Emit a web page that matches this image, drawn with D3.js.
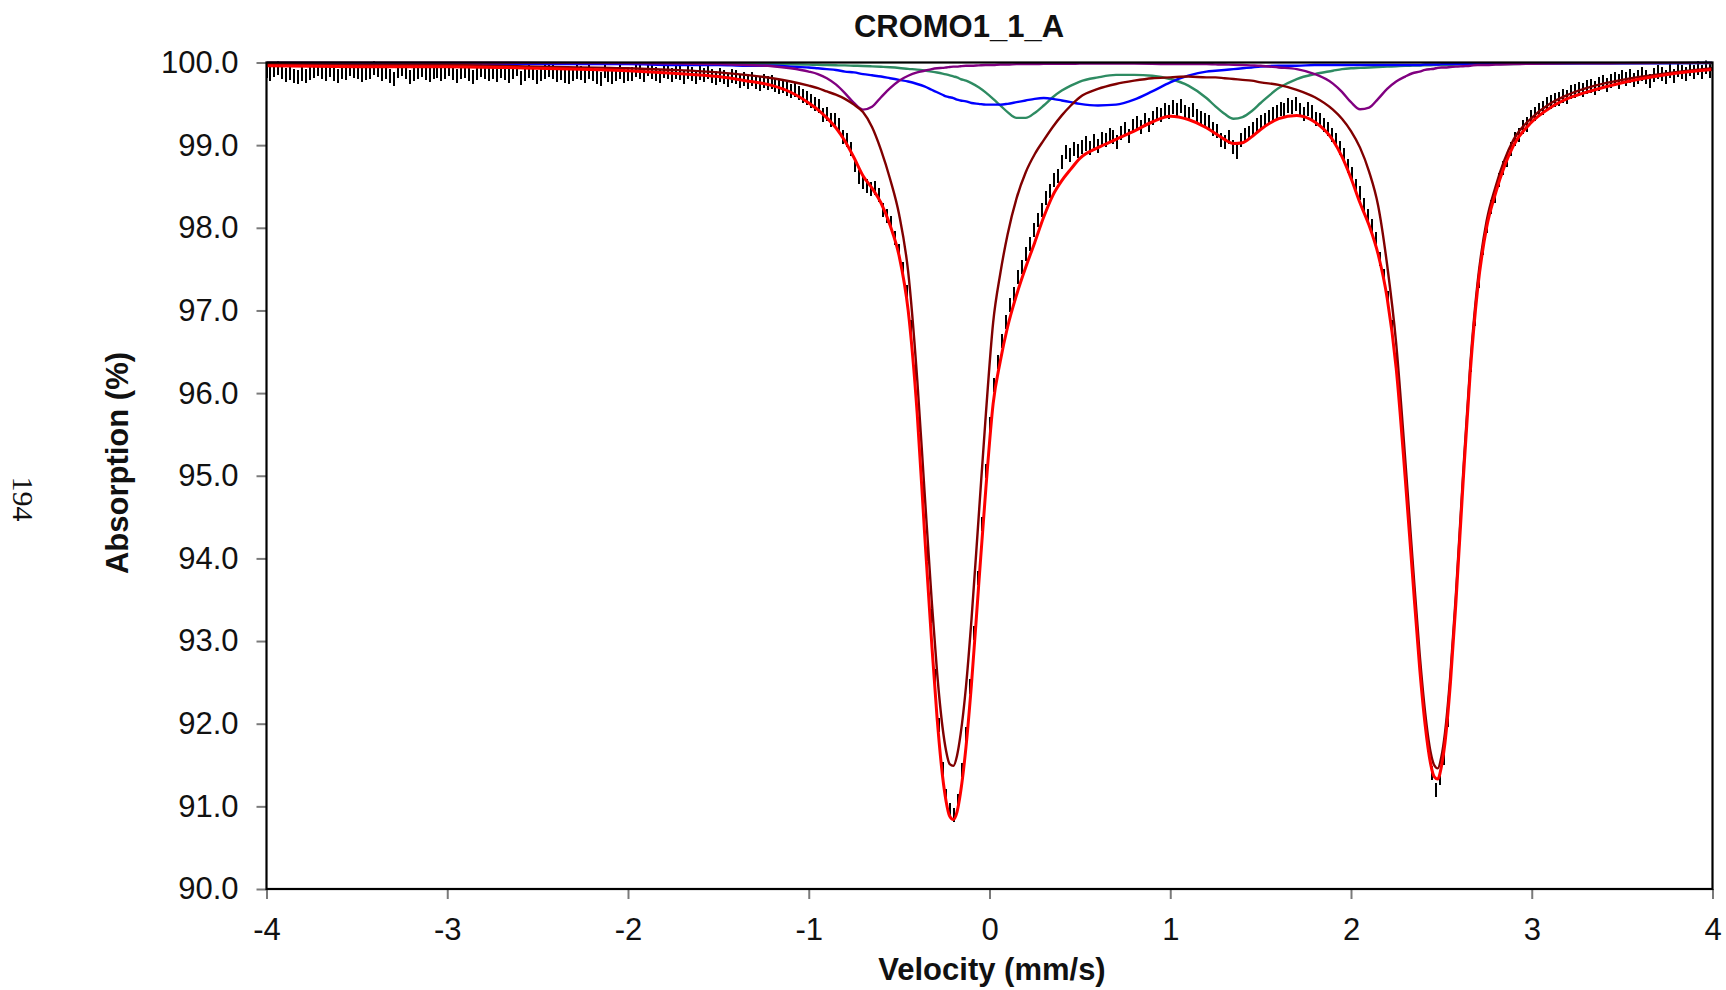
<!DOCTYPE html>
<html>
<head>
<meta charset="utf-8">
<script src="https://cdn.jsdelivr.net/npm/d3@7"></script>
<style>
  html, body { margin: 0; padding: 0; background: #fff; }
  svg { display: block; }
</style>
</head>
<body>
<svg id="chart" width="1726" height="990"></svg>
<script>
// ---- Mössbauer spectrum CROMO1_1_A ----
const chartTitle = "CROMO1_1_A";
const xLabel = "Velocity (mm/s)";
const yLabel = "Absorption (%)";
const pageNumber = "194";
const xTicks = [-4, -3, -2, -1, 0, 1, 2, 3, 4];
const yTicks = [90, 91, 92, 93, 94, 95, 96, 97, 98, 99, 100];

// Channel velocity calibration (linear drive)
const channelStart = -4.0;
const channelStep = 0.022;
// Measured absorption per channel (%)
const spectrum = [
  99.90, 99.86, 99.91, 99.93, 99.89, 99.85, 99.87, 99.84, 99.82, 99.86,
  99.84, 99.87, 99.90, 99.92, 99.88, 99.86, 99.91, 99.86, 99.84, 99.89,
  99.87, 99.92, 99.90, 99.88, 99.85, 99.87, 99.89, 99.93, 99.91, 99.86,
  99.88, 99.84, 99.80, 99.90, 99.92, 99.88, 99.83, 99.86, 99.89, 99.91,
  99.87, 99.85, 99.88, 99.90, 99.86, 99.89, 99.92, 99.87, 99.84, 99.88,
  99.90, 99.86, 99.83, 99.87, 99.91, 99.89, 99.86, 99.88, 99.85, 99.90,
  99.87, 99.84, 99.88, 99.92, 99.81, 99.86, 99.90, 99.87, 99.83, 99.86,
  99.89, 99.91, 99.88, 99.85, 99.87, 99.84, 99.82, 99.86, 99.89, 99.87,
  99.84, 99.88, 99.86, 99.83, 99.80, 99.90, 99.85, 99.82, 99.86, 99.88,
  99.84, 99.86,
  99.86, 99.91, 99.88, 99.85, 99.92, 99.89, 99.86, 99.84, 99.90, 99.88,
  99.85, 99.89, 99.87, 99.83, 99.88, 99.86, 99.82, 99.87, 99.85, 99.88,
  99.84, 99.81, 99.85, 99.83, 99.79, 99.84, 99.82, 99.78, 99.80, 99.77,
  99.80, 99.76, 99.74, 99.78, 99.75, 99.76, 99.73, 99.70, 99.72, 99.68,
  99.66, 99.67, 99.63, 99.60, 99.57,
  99.53, 99.50, 99.47, 99.36, 99.38, 99.31, 99.30, 99.24, 99.10, 99.06,
  98.95, 98.76, 98.62, 98.55, 98.51, 98.47, 98.48, 98.40, 98.21, 98.14,
  98.06, 97.88, 97.72, 97.50, 97.22, 96.80, 96.25, 95.62, 94.82, 94.05,
  93.30, 92.58, 91.98, 91.45, 91.12, 90.96, 90.90, 91.07, 91.44, 91.88,
  92.45, 93.10, 93.76, 94.42, 95.06, 95.62, 96.10, 96.38, 96.63, 96.86,
  97.07, 97.20, 97.41, 97.52, 97.68, 97.80, 97.97, 98.10, 98.22, 98.36,
  98.45, 98.58, 98.63, 98.80, 98.92, 98.88, 98.95, 98.93, 98.98, 99.02,
  98.96, 99.05, 98.99, 99.08, 99.06, 99.12, 99.10, 99.04, 99.15, 99.20,
  99.11, 99.23, 99.27, 99.22, 99.30, 99.24, 99.33, 99.38, 99.36, 99.42,
  99.40, 99.46, 99.43, 99.47, 99.40, 99.38, 99.42, 99.35, 99.33, 99.30,
  99.28, 99.20, 99.17, 99.06, 99.04, 99.10, 98.98, 98.92, 99.06, 99.12,
  99.15, 99.20, 99.24, 99.28, 99.30, 99.34, 99.38, 99.40, 99.44, 99.42,
  99.48, 99.46, 99.50, 99.42, 99.38, 99.44, 99.40, 99.32, 99.30, 99.24,
  99.20, 99.12, 99.06, 98.97, 98.88, 98.75, 98.65, 98.50, 98.42, 98.28,
  98.14, 98.02, 97.86,
  97.62, 97.42, 97.15, 96.80, 96.40, 95.85, 95.24, 94.62, 93.98, 93.34,
  92.70, 92.18, 91.74, 91.40, 91.20, 91.34, 91.58, 92.04, 92.60, 93.30,
  94.08, 94.88, 95.64, 96.34, 96.90, 97.36, 97.75, 98.02, 98.25, 98.38,
  98.58,
  98.72, 98.82, 98.95, 99.08, 99.12, 99.22, 99.25, 99.34, 99.38, 99.42,
  99.45, 99.50, 99.52, 99.55, 99.56, 99.60, 99.58, 99.64, 99.66, 99.68,
  99.67, 99.70, 99.72, 99.69, 99.74, 99.76, 99.73, 99.78, 99.80, 99.77,
  99.82, 99.80, 99.84, 99.79, 99.83, 99.86, 99.82, 99.78, 99.85, 99.88,
  99.86, 99.83, 99.90, 99.84, 99.91, 99.89, 99.86, 99.92, 99.88, 99.93,
  99.89, 99.94, 99.90
];
// Statistical uncertainty of each channel (%)
const errorBar = 0.085;

// Fit model sampled on a velocity grid
const fitVelocity = [
  -4.0, -3.5, -3.0, -2.5, -2.0, -1.75, -1.5, -1.35, -1.2, -1.1,
  -1.0, -0.95, -0.9, -0.85, -0.8, -0.75, -0.7, -0.65, -0.6, -0.55,
  -0.5, -0.45, -0.4, -0.36, -0.32, -0.29, -0.26, -0.24, -0.22, -0.2,
  -0.18, -0.16, -0.13, -0.1, -0.06, -0.02, 0.02, 0.06, 0.1, 0.15,
  0.2, 0.25, 0.3, 0.35, 0.4, 0.45, 0.5, 0.6, 0.7, 0.8,
  0.9, 1.0, 1.1, 1.2, 1.25, 1.3, 1.35, 1.4, 1.45, 1.5,
  1.6, 1.7, 1.8, 1.9, 1.95, 2.0, 2.05, 2.1, 2.15, 2.2,
  2.25, 2.3, 2.34, 2.38, 2.41, 2.44, 2.46, 2.48, 2.5, 2.52,
  2.55, 2.58, 2.62, 2.66, 2.7, 2.75, 2.8, 2.9, 3.0, 3.1,
  3.2, 3.35, 3.5, 3.75, 4.0
];
// Total fit
const fitTotal = [
  99.96, 99.95, 99.95, 99.93, 99.90, 99.87, 99.83, 99.78, 99.72, 99.64,
  99.51, 99.43, 99.33, 99.21, 99.05, 98.85, 98.63, 98.48, 98.30, 98.03,
  97.66, 97.00, 95.75, 94.34, 92.98, 92.07, 91.37, 91.06, 90.88, 90.84,
  90.93, 91.17, 91.72, 92.47, 93.67, 94.85, 95.87, 96.39, 96.80, 97.19,
  97.52, 97.82, 98.13, 98.39, 98.57, 98.71, 98.84, 98.97, 99.07, 99.17,
  99.28, 99.35, 99.31, 99.21, 99.14, 99.07, 99.02, 99.03, 99.10, 99.19,
  99.32, 99.36, 99.28, 99.06, 98.86, 98.60, 98.30, 98.03, 97.68, 97.15,
  96.30, 94.97, 93.81, 92.67, 91.99, 91.52, 91.36, 91.33, 91.48, 91.77,
  92.49, 93.45, 94.91, 96.26, 97.25, 98.00, 98.42, 99.00, 99.28, 99.45,
  99.565, 99.67, 99.755, 99.855, 99.915
];
// Main ferrous doublet
const siteA = [
  99.98, 99.97, 99.97, 99.95, 99.93, 99.91, 99.88, 99.85, 99.81, 99.77,
  99.72, 99.69, 99.65, 99.61, 99.56, 99.49, 99.40, 99.22, 98.94, 98.59,
  98.16, 97.47, 96.17, 94.83, 93.50, 92.62, 91.96, 91.67, 91.51, 91.49,
  91.61, 91.87, 92.45, 93.25, 94.50, 95.75, 96.85, 97.45, 97.92, 98.36,
  98.67, 98.89, 99.06, 99.22, 99.36, 99.48, 99.58, 99.68, 99.74, 99.78,
  99.81, 99.82, 99.83, 99.82, 99.82, 99.81, 99.80, 99.79, 99.78, 99.76,
  99.73, 99.67, 99.58, 99.43, 99.32, 99.17, 98.97, 98.68, 98.27, 97.55,
  96.60, 95.20, 94.00, 92.84, 92.14, 91.66, 91.50, 91.46, 91.60, 91.89,
  92.60, 93.55, 95.01, 96.35, 97.33, 98.08, 98.50, 99.07, 99.33, 99.50,
  99.61, 99.72, 99.79, 99.87, 99.93
];
// Broad doublet
const siteB = [
  99.99, 99.99, 99.99, 99.98, 99.98, 99.97, 99.97, 99.96, 99.96, 99.95,
  99.94, 99.93, 99.92, 99.91, 99.89, 99.88, 99.86, 99.845, 99.83, 99.81,
  99.79, 99.77, 99.74, 99.71, 99.67, 99.64, 99.61, 99.59, 99.58, 99.57,
  99.55, 99.54, 99.53, 99.51, 99.50, 99.49, 99.49, 99.49, 99.50, 99.52,
  99.54, 99.56, 99.57, 99.56, 99.54, 99.52, 99.50, 99.48, 99.49, 99.55,
  99.65, 99.76, 99.84, 99.89, 99.90, 99.91, 99.92, 99.93, 99.94, 99.95,
  99.96, 99.96, 99.97, 99.97, 99.97, 99.97, 99.97, 99.97, 99.97, 99.97,
  99.97, 99.97, 99.97, 99.97, 99.975, 99.975, 99.975, 99.975, 99.98, 99.98,
  99.98, 99.98, 99.98, 99.98, 99.98, 99.985, 99.985, 99.985, 99.99, 99.99,
  99.99, 99.99, 99.99, 99.99, 99.995
];
// Second doublet
const siteC = [
  99.997, 99.996, 99.996, 99.994, 99.991, 99.989, 99.986, 99.984, 99.981, 99.978,
  99.974, 99.972, 99.969, 99.966, 99.965, 99.961, 99.958, 99.953, 99.948, 99.942,
  99.934, 99.923, 99.914, 99.903, 99.89, 99.879, 99.866, 99.856, 99.845, 99.832,
  99.82, 99.80, 99.78, 99.75, 99.70, 99.635, 99.56, 99.48, 99.40, 99.33,
  99.33, 99.39, 99.48, 99.58, 99.66, 99.72, 99.77, 99.82, 99.85, 99.85,
  99.84, 99.80, 99.72, 99.57, 99.47, 99.38, 99.32, 99.34, 99.41, 99.51,
  99.69, 99.80, 99.86, 99.90, 99.92, 99.93, 99.935, 99.94, 99.945, 99.95,
  99.955, 99.96, 99.962, 99.964, 99.966, 99.967, 99.968, 99.969, 99.97, 99.97,
  99.972, 99.974, 99.975, 99.976, 99.977, 99.979, 99.98, 99.982, 99.986, 99.987,
  99.988, 99.99, 99.991, 99.993, 99.994
];
// Narrow outer doublet
const siteD = [
  99.998, 99.998, 99.997, 99.996, 99.992, 99.988, 99.98, 99.97, 99.955, 99.93,
  99.89, 99.86, 99.81, 99.735, 99.63, 99.51, 99.43, 99.465, 99.58, 99.69,
  99.78, 99.84, 99.88, 99.90, 99.92, 99.93, 99.935, 99.94, 99.945, 99.95,
  99.95, 99.955, 99.96, 99.96, 99.965, 99.97, 99.97, 99.975, 99.975, 99.98,
  99.98, 99.98, 99.985, 99.985, 99.985, 99.985, 99.986, 99.986, 99.986, 99.986,
  99.985, 99.98, 99.98, 99.98, 99.977, 99.975, 99.973, 99.97, 99.965, 99.96,
  99.94, 99.92, 99.86, 99.745, 99.645, 99.52, 99.435, 99.455, 99.56, 99.68,
  99.77, 99.83, 99.87, 99.89, 99.91, 99.92, 99.925, 99.935, 99.94, 99.94,
  99.945, 99.95, 99.955, 99.96, 99.97, 99.97, 99.975, 99.98, 99.985, 99.988,
  99.99, 99.99, 99.993, 99.995, 99.996
];

// ---- layout ----
const W = 1726, H = 990;
const plot = { left: 266.5, right: 1712.5, top: 62.5, bottom: 889 };
const sansFont = "'Liberation Sans', Arial, Helvetica, sans-serif";

const svg = d3.select("#chart");
svg.append("rect").attr("width", W).attr("height", H).attr("fill", "#fff");

const x = d3.scaleLinear().domain([-4, 4]).range([plot.left, plot.right]);
const y = d3.scaleLinear().domain([90, 100]).range([plot.bottom, plot.top]);

svg.append("defs").append("clipPath").attr("id", "plotClip")
  .append("rect")
  .attr("x", plot.left).attr("y", plot.top - 2)
  .attr("width", plot.right - plot.left).attr("height", plot.bottom - plot.top + 2);

// axes
const yAxis = d3.axisLeft(y).tickValues(yTicks).tickFormat(d3.format(".1f"))
  .tickSize(10).tickPadding(18);
const xAxis = d3.axisBottom(x).tickValues(xTicks).tickFormat(d3.format("d"))
  .tickSize(10).tickPadding(19);

const gy = svg.append("g").attr("transform", `translate(${plot.left},0)`).call(yAxis);
const gx = svg.append("g").attr("transform", `translate(0,${plot.bottom})`).call(xAxis);
[gx, gy].forEach(g => {
  g.select(".domain").remove();
  g.selectAll(".tick line").attr("stroke", "#7a7a7a").attr("stroke-width", 2);
  g.selectAll(".tick text")
    .attr("fill", "#111")
    .style("font-family", sansFont)
    .style("font-size", "31px");
});
gx.selectAll(".tick text").text(d => d < 0 ? "-" + Math.abs(d) : String(d));

// data with error bars
const body = svg.append("g").attr("clip-path", "url(#plotClip)");
body.append("g").selectAll("line").data(spectrum).join("line")
  .attr("x1", (d, i) => Math.round(x(channelStart + i * channelStep)))
  .attr("x2", (d, i) => Math.round(x(channelStart + i * channelStep)))
  .attr("y1", d => y(d - errorBar))
  .attr("y2", d => y(d + errorBar))
  .attr("stroke", "#000")
  .attr("stroke-width", 2)
  .attr("shape-rendering", "crispEdges");

// fit components and total
const line = d3.line()
  .x((d, i) => x(fitVelocity[i]))
  .y(d => y(d))
  .curve(d3.curveMonotoneX);

const curves = [
  { values: siteC, color: "#2e8b62", width: 2.4 },
  { values: siteB, color: "#0000ff", width: 2.4 },
  { values: siteD, color: "#800080", width: 2.4 },
  { values: siteA, color: "#800000", width: 2.4 },
  { values: fitTotal, color: "#ff0000", width: 3 }
];
curves.forEach(c => {
  body.append("path").datum(c.values)
    .attr("d", line)
    .attr("fill", "none")
    .attr("stroke", c.color)
    .attr("stroke-width", c.width)
    .attr("stroke-linejoin", "round");
});

// plot frame
svg.append("rect")
  .attr("x", plot.left).attr("y", plot.top)
  .attr("width", plot.right - plot.left).attr("height", plot.bottom - plot.top)
  .attr("fill", "none").attr("stroke", "#000").attr("stroke-width", 2.2);

// titles
svg.append("text")
  .attr("x", 959).attr("y", 37)
  .attr("text-anchor", "middle")
  .style("font-family", sansFont).style("font-weight", "bold").style("font-size", "31px")
  .attr("fill", "#111")
  .text(chartTitle);

svg.append("text")
  .attr("x", 992).attr("y", 980)
  .attr("text-anchor", "middle")
  .style("font-family", sansFont).style("font-weight", "bold").style("font-size", "31px")
  .attr("fill", "#111")
  .text(xLabel);

svg.append("text")
  .attr("transform", "translate(128,463) rotate(-90)")
  .attr("text-anchor", "middle")
  .style("font-family", sansFont).style("font-weight", "bold").style("font-size", "31px")
  .attr("fill", "#111")
  .text(yLabel);

svg.append("text")
  .attr("transform", "translate(13,499) rotate(90)")
  .attr("text-anchor", "middle")
  .style("font-family", "'Liberation Serif', 'Times New Roman', serif")
  .style("font-size", "30px")
  .attr("fill", "#111")
  .text(pageNumber);
</script>
</body>
</html>
